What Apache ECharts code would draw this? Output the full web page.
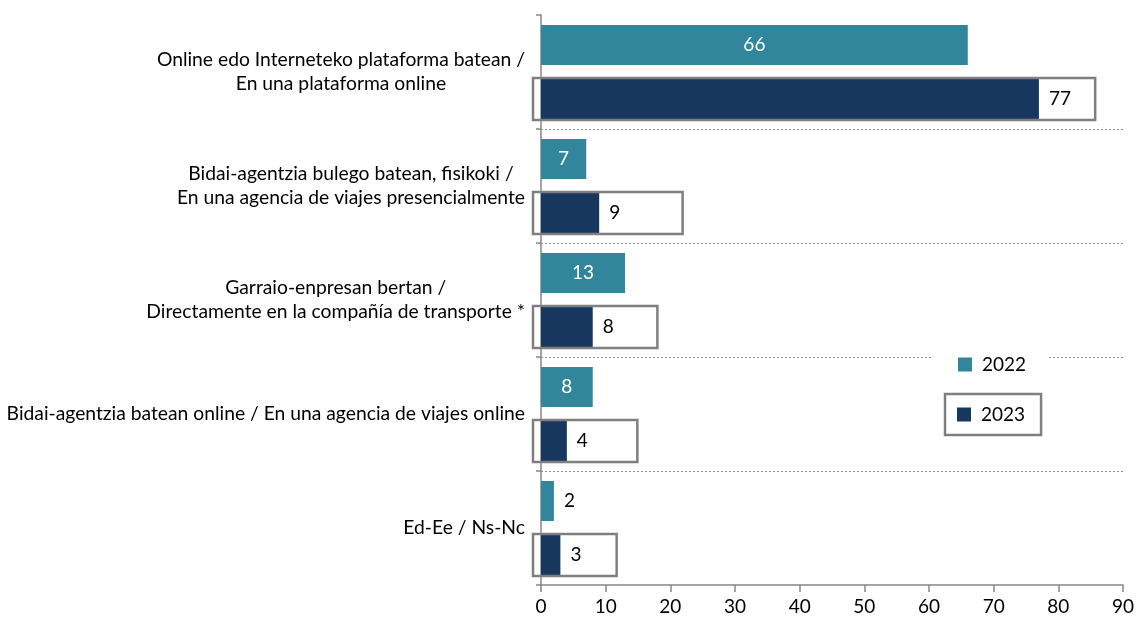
<!DOCTYPE html>
<html>
<head>
<meta charset="utf-8">
<script src="https://cdn.jsdelivr.net/npm/echarts@6/dist/echarts.min.js"></script>
<style>
  html, body { margin: 0; padding: 0; background: #fff; }
  #chart { width: 1137px; height: 621px; }
</style>
</head>
<body>
<div id="chart"></div>
<script>
// categories (top to bottom)
const categories = [
  'Online edo Interneteko plataforma batean /\nEn una plataforma online',
  'Bidai-agentzia bulego batean, fisikoki /\nEn una agencia de viajes presencialmente',
  'Garraio-enpresan bertan /\nDirectamente en la compañía de transporte *',
  'Bidai-agentzia batean online / En una agencia de viajes online',
  'Ed-Ee / Ns-Nc'
];
const values2022 = [66, 7, 13, 8, 2];
const values2023 = [77, 9, 8, 4, 3];
// right edge of the grey selection frame around each 2023 bar (axis units)
const frameEnd2023 = [85.7, 21.9, 18.0, 14.9, 11.7];
const xTicks = { min: 0, max: 90, interval: 10 };

const C2022 = '#31869b';
const C2023 = '#17375e';
const FONT = 'Lato';

const chart = echarts.init(document.getElementById('chart'));

const labels2022 = values2022.map(function (v) {
  const inside = v >= 5;
  return {
    value: v,
    label: {
      position: inside ? 'inside' : 'right',
      color: inside ? '#fff' : '#000',
      distance: 10
    }
  };
});

chart.setOption({
  animation: false,
  textStyle: { fontFamily: FONT },
  grid: { left: 541, right: 10, top: 15, bottom: 36 },
  legend: [
    {
      data: ['2022'],
      left: 933, top: 347,
      padding: [8, 22, 8, 25],
      backgroundColor: '#fff',
      itemWidth: 14, itemHeight: 14,
      icon: 'rect',
      textStyle: { fontFamily: FONT, fontSize: 19, color: '#000', padding: [0, 0, 0, 5] },
      selectedMode: false
    },
    {
      data: ['2023'],
      left: 945, top: 394,
      padding: [11, 16, 11, 12],
      borderColor: '#7f7f7f', borderWidth: 2.5,
      backgroundColor: '#fff',
      itemWidth: 14, itemHeight: 14,
      icon: 'rect',
      textStyle: { fontFamily: FONT, fontSize: 19, color: '#000', padding: [0, 0, 0, 5] },
      selectedMode: false
    }
  ],
  xAxis: {
    type: 'value',
    min: xTicks.min, max: xTicks.max, interval: xTicks.interval,
    axisLine: { show: true, lineStyle: { color: '#868686', width: 1.5 } },
    axisTick: { show: true, length: 7, lineStyle: { color: '#868686', width: 1.5 } },
    axisLabel: { fontFamily: FONT, fontSize: 19, color: '#000', margin: 12 },
    splitLine: { show: false }
  },
  yAxis: {
    type: 'category',
    inverse: true,
    data: categories,
    axisLine: { show: true, lineStyle: { color: '#868686', width: 1.5 } },
    axisTick: { show: true, length: 5, lineStyle: { color: '#868686', width: 1.5 } },
    splitLine: {
      show: true,
      lineStyle: {
        type: [2, 2],
        width: 1,
        color: ['rgba(0,0,0,0)', '#8c8c8c', '#8c8c8c', '#8c8c8c', '#8c8c8c', 'rgba(0,0,0,0)']
      }
    },
    axisLabel: {
      margin: 16,
      color: '#000',
      formatter: function (v) {
        return v.split('\n').map(function (l) { return '{c|' + l + '}'; }).join('\n');
      },
      rich: {
        c: { fontFamily: FONT, fontSize: 19.3, color: '#000', align: 'center', lineHeight: 24 }
      }
    }
  },
  series: [
    {
      name: '2022',
      type: 'bar',
      data: labels2022,
      barWidth: 40,
      barGap: '35%',
      itemStyle: { color: C2022 },
      label: { show: true, fontFamily: FONT, fontSize: 19 }
    },
    {
      name: '2023',
      type: 'bar',
      data: values2023,
      barWidth: 40,
      barGap: '35%',
      itemStyle: { color: C2023 },
      label: { show: true, position: 'right', distance: 10, color: '#000', fontFamily: FONT, fontSize: 19 }
    },
    {
      name: 'frame',
      type: 'custom',
      z: 5,
      silent: true,
      data: frameEnd2023.map(function (v, i) { return [v, i]; }),
      encode: { x: 0, y: 1 },
      renderItem: function (params, api) {
        const end = api.coord([api.value(0), api.value(1)]);
        const start = api.coord([0, api.value(1)]);
        const cy = end[1] + 27;
        return {
          type: 'rect',
          shape: { x: start[0] - 8, y: cy - 21, width: end[0] - start[0] + 8, height: 42 },
          style: { fill: 'none', stroke: '#7f7f7f', lineWidth: 2.5 }
        };
      }
    }
  ]
});
</script>
</body>
</html>
